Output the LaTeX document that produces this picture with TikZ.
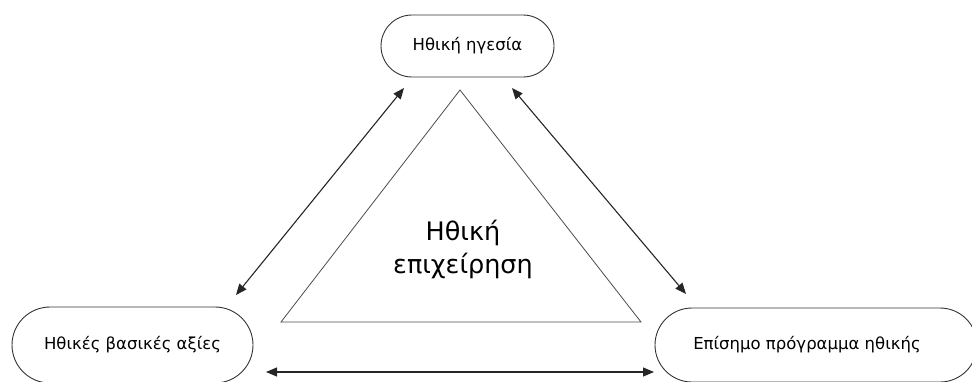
\documentclass[tikz,border=0pt]{standalone}
\usepackage{fontspec}
\setmainfont{DejaVu Sans}
\usetikzlibrary{arrows.meta,shapes.misc}
\begin{document}
\begin{tikzpicture}[x=1pt,y=-1pt,
  pill/.style={rounded rectangle, draw=black!80, line width=0.9pt, inner sep=0pt, font=\fontsize{16.5}{18}\selectfont},
  link/.style={line width=1.1pt, draw=black!85, {Triangle[length=11pt,width=9pt]}-{Triangle[length=11pt,width=9pt]}},
  tri/.style={draw=black!70, line width=0.8pt}]
  \useasboundingbox (0,0) rectangle (972,381);
  % the three poles
  \node[pill, minimum width=173pt, minimum height=62pt] (lead) at (467.5,46) {Ηθική ηγεσία};
  \node[pill, minimum width=241pt, minimum height=76pt] (values) at (132.5,345) {\raisebox{4pt}{Ηθικές βασικές αξίες}};
  \node[pill, minimum width=322pt, minimum height=74pt] (prog) at (816,345) {\raisebox{4pt}{Επίσημο πρόγραμμα ηθικής}\hspace*{18pt}};
  % central triangle
  \coordinate (apex) at (460,90);
  \coordinate (bl) at (281,322);
  \coordinate (br) at (641,322);
  \draw[tri] (apex) -- (bl) -- (br) -- cycle;
  \node[font=\fontsize{25.5}{32}\selectfont, align=center] (core) at (463,249) {Ηθική\\[1pt]επιχείρηση};
  % arrow ends
  \coordinate (a1) at (236,295);
  \coordinate (a2) at (404,88);
  \coordinate (b1) at (512,88);
  \coordinate (b2) at (686,294);
  \coordinate (c1) at (266,372);
  \coordinate (c2) at (654,372);
  \draw[link] (a1) -- (a2);
  \draw[link] (b1) -- (b2);
  \draw[link] (c1) -- (c2);
\end{tikzpicture}
\end{document}
